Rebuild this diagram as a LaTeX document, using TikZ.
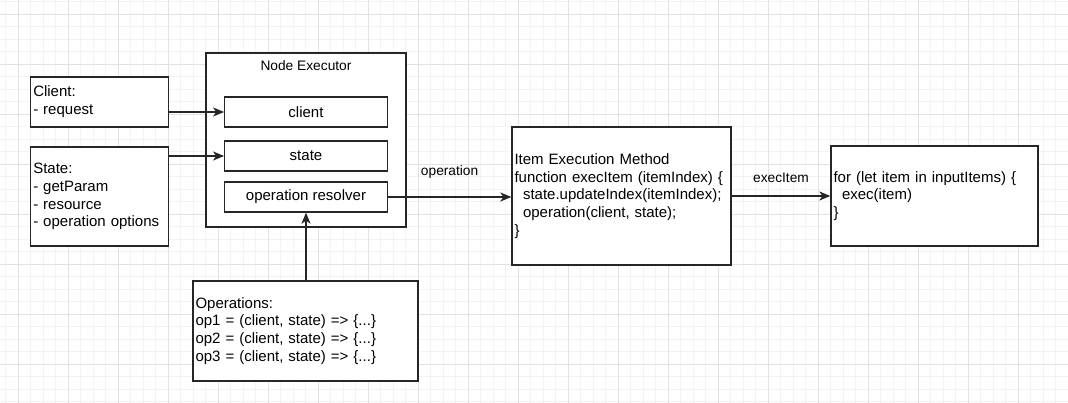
\documentclass[tikz,border=0pt]{standalone}
\usepackage{fontspec}
\setmainfont{Liberation Sans}
\usetikzlibrary{arrows.meta}
\definecolor{gridminor}{HTML}{F3F3F3}
\definecolor{gridmajor}{HTML}{E2E2E2}
\def\bodyfont{\fontsize{15}{17.8}\selectfont}
\def\labelfont{\fontsize{13.75}{16}\selectfont}
\def\codeindent{\hspace*{8.5pt}}

\begin{document}
\begin{tikzpicture}[x=1pt,y=-1pt,
	box/.style={draw=black!85,line width=1.3pt,fill=white,inner sep=0pt,font=\bodyfont},
	textbox/.style={box,align=left,inner xsep=2.5pt},
	inbox/.style={box,minimum width=162.5pt,minimum height=30pt},
	edgelabel/.style={font=\labelfont,inner sep=0pt},
	arrow/.style={draw=black!85,line width=1.3pt,-{Stealth[length=11pt,width=9pt,inset=3pt]}}]
			\useasboundingbox (0,0) rectangle (1068,403);
			\fill[white] (0,0) rectangle (1068,403);
			\begin{scope}[gridminor,line width=1pt]
				\foreach \k in {0,...,84} \draw ({5.8+12.5*\k},0) -- ++(0,403);
				\foreach \k in {0,...,32} \draw (0,{1.8+12.5*\k}) -- ++(1068,0);
			\end{scope}
			\begin{scope}[gridmajor,line width=1pt]
				\foreach \k in {0,...,20} \draw ({18.3+50*\k},0) -- ++(0,403);
				\foreach \k in {0,...,7} \draw (0,{14.3+50*\k}) -- ++(1068,0);
			\end{scope}
			\node[textbox,text width=132.5pt,minimum height=50pt] (clientbox) at (99.5,102) {Client:\\- request};
			\node[textbox,text width=132.5pt,minimum height=99pt] (statebox) at (99.5,196.5) {State:\\- getParam\\- resource\\- operation options};
			\node[box,minimum width=200pt,minimum height=174pt] (executor) at (306,140) {};
			\node[edgelabel] (exectitle) at (306,66) {Node Executor};
			\node[inbox] (clientin) at (306,112) {client};
			\node[inbox] (statein) at (306,156) {state};
			\node[inbox] (resolver) at (306,197) {operation resolver};
			\node[textbox,text width=220pt,minimum height=100pt] (opsbox) at (305.5,331) {Operations:\\op1 = (client, state) => \{...\}\\op2 = (client, state) => \{...\}\\op3 = (client, state) => \{...\}};
			\node[textbox,text width=214pt,minimum height=138pt] (itembox) at (621.5,196) {Item Execution Method\\function execItem (itemIndex) \{\\\codeindent state.updateIndex(itemIndex);\\\codeindent operation(client, state);\\\}};
			\node[textbox,text width=202pt,minimum height=100pt] (loopbox) at (934.5,196) {for (let item in inputItems) \{\\\codeindent exec(item)\\\}};
			\draw[arrow] (clientin.west -| clientbox.east) -- (clientin.west);
			\draw[arrow] (statein.west -| statebox.east) -- (statein.west);
			\draw[arrow] (opsbox.north -| resolver.south) -- (resolver.south);
			\draw[arrow] (resolver.east) -- (resolver.east -| itembox.west) node[edgelabel,midway,yshift=25pt] (oplabel) {operation};
			\draw[arrow] (itembox.east) -- (loopbox.west) node[edgelabel,midway,yshift=18pt] (execlabel) {execItem};
		\end{tikzpicture}
\end{document}
